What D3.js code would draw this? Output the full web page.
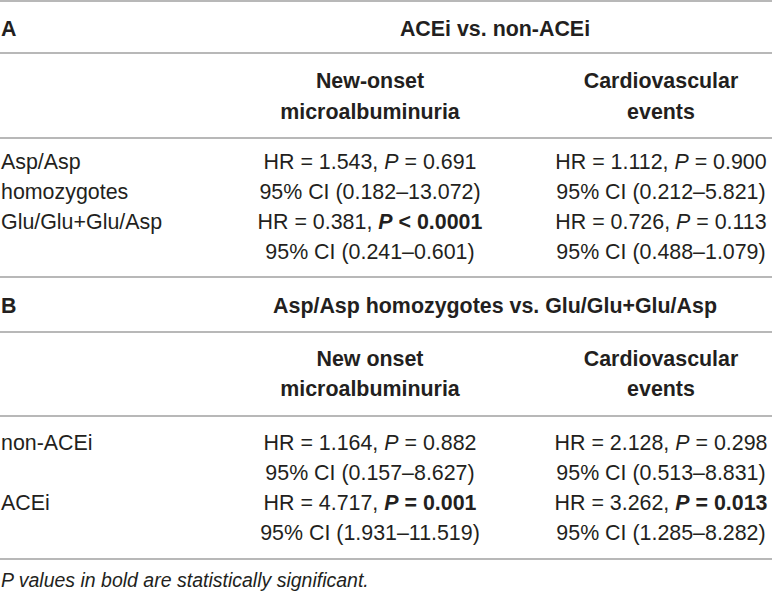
<!DOCTYPE html>
<html>
<head>
<meta charset="utf-8">
<script src="https://cdn.jsdelivr.net/npm/d3@7"></script>
<style>
  body { margin: 0; background: #fff; }
  text { font-family: "Liberation Sans", Arial, Helvetica, sans-serif; fill: #231f20; }
</style>
</head>
<body>
<div id="table-area"></div>
<script>

const width = 772;
const height = 593;

// 表格数据
const sectionLetters = ["A", "B"];
const spanTitles = ["ACEi vs. non-ACEi", "Asp/Asp homozygotes vs. Glu/Glu+Glu/Asp"];
const colHeadsA = [["New-onset", "microalbuminuria"], ["Cardiovascular", "events"]];
const colHeadsB = [["New onset", "microalbuminuria"], ["Cardiovascular", "events"]];
const rowLabelsA = [["Asp/Asp", "homozygotes"], ["Glu/Glu+Glu/Asp"]];
const rowLabelsB = [["non-ACEi"], ["ACEi"]];

const hrA = [[1.543, 1.112], [0.381, 0.726]];
const pA = [["= 0.691", "= 0.900"], ["< 0.0001", "= 0.113"]];
const ciA = [[[0.182, 13.072], [0.212, 5.821]], [[0.241, 0.601], [0.488, 1.079]]];
const sigA = [[false, false], [true, false]];

const hrB = [[1.164, 2.128], [4.717, 3.262]];
const pB = [["= 0.882", "= 0.298"], ["= 0.001", "= 0.013"]];
const ciB = [[[0.157, 8.627], [0.513, 8.831]], [[1.931, 11.519], [1.285, 8.282]]];
const sigB = [[false, false], [true, true]];

const footnote = "P values in bold are statistically significant.";

var fmt = d3.format(".3f");

var svg = d3.select("#table-area").append("svg")
	.attr("width", width)
	.attr("height", height);

// 列的位置
var x = d3.scaleOrdinal()
	.domain([0, 1])
	.range([370, 661]);
var spanX = 495;
var fs = 21.4;

// 每一部分的纵向布局
var layouts = [
	{top: 1, title: 36, mid: 53, head: [88, 119], bodyLine: 138, body: [169, 199, 229, 259]},
	{top: 277, title: 312.5, mid: 332, head: [366, 396], bodyLine: 416, body: [450, 480, 510, 540]}
];
var bottomLine = 559;

var sections = [
	{heads: colHeadsA, labels: rowLabelsA, hr: hrA, p: pA, ci: ciA, sig: sigA},
	{heads: colHeadsB, labels: rowLabelsB, hr: hrB, p: pB, ci: ciB, sig: sigB}
];

function hline(y) {
	svg.append("line")
		.attr("x1", 0)
		.attr("x2", width)
		.attr("y1", y)
		.attr("y2", y)
		.attr("stroke", "#b8b8b8")
		.attr("stroke-width", 2);
}

sections.forEach(function(sec, si) {
	var L = layouts[si];

	hline(L.top);
	hline(L.mid);
	hline(L.bodyLine);

	// 字母
	svg.append("text")
		.attr("x", 1)
		.attr("y", L.title)
		.style("font-size", fs + "px")
		.style("font-weight", "bold")
		.text(sectionLetters[si]);

	// 跨列标题
	svg.append("text")
		.attr("x", spanX)
		.attr("y", L.title)
		.attr("text-anchor", "middle")
		.style("font-size", fs + "px")
		.style("font-weight", "bold")
		.text(spanTitles[si]);

	// 列标题
	sec.heads.forEach(function(h, ci) {
		h.forEach(function(line, li) {
			svg.append("text")
				.attr("x", x(ci))
				.attr("y", L.head[li])
				.attr("text-anchor", "middle")
				.style("font-size", fs + "px")
				.style("font-weight", "bold")
				.text(line);
		});
	});

	// 行标签
	sec.labels.forEach(function(lab, ri) {
		lab.forEach(function(line, li) {
			svg.append("text")
				.attr("x", 1)
				.attr("y", L.body[ri * 2 + li])
				.style("font-size", fs + "px")
				.text(line);
		});
	});

	// 单元格
	sec.hr.forEach(function(row, ri) {
		row.forEach(function(hr, ci) {
			var bold = sec.sig[ri][ci];
			var t = svg.append("text")
				.attr("x", x(ci))
				.attr("y", L.body[ri * 2])
				.attr("text-anchor", "middle")
				.style("font-size", fs + "px");
			t.append("tspan").text("HR = " + fmt(hr) + ", ");
			t.append("tspan")
				.style("font-style", "italic")
				.style("font-weight", bold ? "bold" : "normal")
				.text("P");
			t.append("tspan")
				.style("font-weight", bold ? "bold" : "normal")
				.text(" " + sec.p[ri][ci]);

			var c = sec.ci[ri][ci];
			svg.append("text")
				.attr("x", x(ci))
				.attr("y", L.body[ri * 2 + 1])
				.attr("text-anchor", "middle")
				.style("font-size", fs + "px")
				.text("95% CI (" + fmt(c[0]) + "\u2013" + fmt(c[1]) + ")");
		});
	});
});

hline(bottomLine);

// 脚注
svg.append("text")
	.attr("x", 1)
	.attr("y", 587)
	.style("font-size", "19.5px")
	.style("font-style", "italic")
	.text(footnote);

</script>
</body>
</html>
